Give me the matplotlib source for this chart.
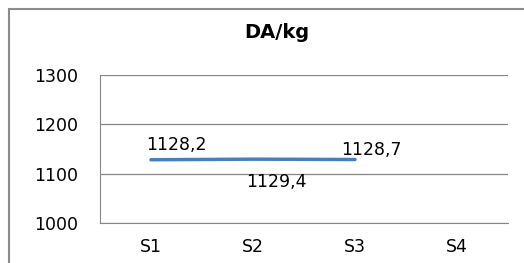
import matplotlib.pyplot as plt
from matplotlib.patches import Rectangle

categories = ["S1", "S2", "S3", "S4"]
values = [1128.2, 1129.4, 1128.7]
labels = ["1128,2", "1129,4", "1128,7"]
yticks = [1000, 1100, 1200, 1300]

plt.rcParams['font.family'] = ['DejaVu Sans']

fig = plt.figure(figsize=(5.24, 2.63), dpi=100)
# outer chart frame
fig.patches.append(Rectangle((9 / 524, -0.1), 1.2, 1 - 9 / 263 + 0.1,
                             transform=fig.transFigure, fill=False,
                             edgecolor="#8c8c8c", linewidth=1.5))

ax = fig.add_axes([100 / 524, 40 / 263, 408 / 524, 148 / 263])
x = [i + 0.5 for i in range(len(values))]
ax.plot(x, values, color="#4a7ebb", linewidth=2.5, solid_capstyle="round")

ax.set_xlim(0, len(categories))
ax.set_ylim(1000, 1300)
ax.set_xticks([i + 0.5 for i in range(len(categories))])
ax.set_xticklabels(categories)
ax.set_yticks(yticks)
ax.tick_params(length=0, labelsize=12.5, colors="#000000")
ax.tick_params(axis="y", pad=16)
ax.tick_params(axis="x", pad=11)
ax.grid(axis="y", color="#868686", linewidth=0.9)
ax.set_axisbelow(True)
for side in ["top", "right"]:
    ax.spines[side].set_visible(False)
ax.spines["left"].set_color("#868686")
ax.spines["bottom"].set_color("#868686")

# data labels, offsets in points as placed in the original
offsets = [(18, 7.2), (17, -20), (12, 3.6)]
for xi, v, lab, off in zip(x, values, labels, offsets):
    ax.annotate(lab, (xi, v), xytext=off, textcoords="offset points",
                ha="center", va="baseline", fontsize=12.5)

fig.text(277 / 524, 1 - 33 / 263, "DA/kg", ha="center", va="center",
         fontsize=14, fontweight="bold")

fig.savefig("out.png", dpi=100)
